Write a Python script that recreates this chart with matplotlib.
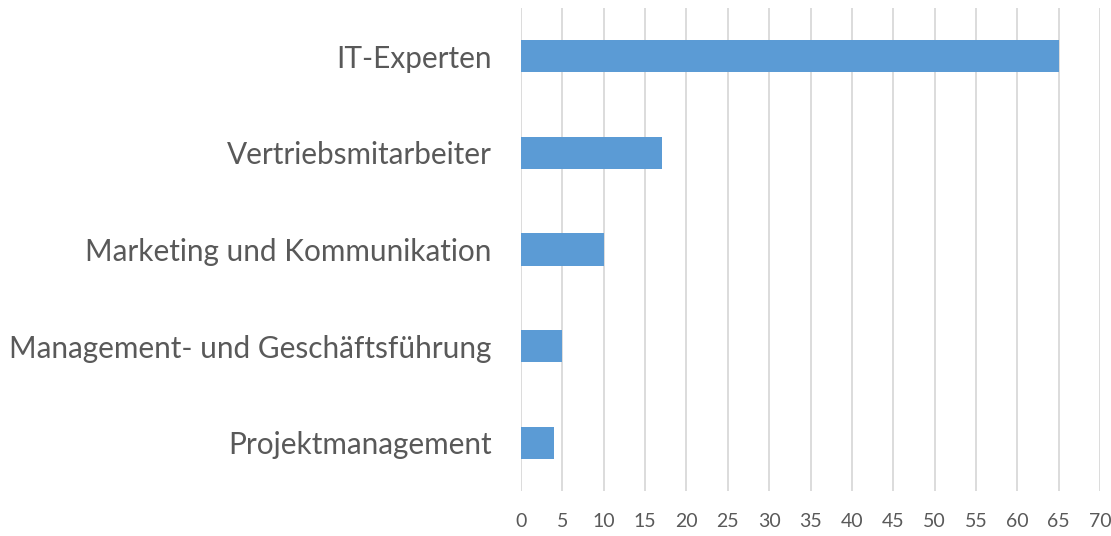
import matplotlib.pyplot as plt

kategorien = ['IT-Experten', 'Vertriebsmitarbeiter', 'Marketing und Kommunikation',
              'Management- und Geschäftsführung', 'Projektmanagement']
werte = [65, 17, 10, 5, 4]
x_ticks = list(range(0, 75, 5))

plt.rcParams['font.family'] = ['Lato', 'DejaVu Sans']

fig = plt.figure(figsize=(11.11, 5.36), dpi=100)
ax = fig.add_axes([521 / 1111, 1 - 491 / 536, (1100 - 521) / 1111, (491 - 8) / 536])

pos = list(range(len(kategorien)))
ax.barh(pos, werte, height=1 / 3, color='#5B9BD5', zorder=3)
ax.set_ylim(len(kategorien) - 0.5, -0.5)
ax.set_xlim(0, 70)
ax.set_xticks(x_ticks)
ax.set_yticks(pos)
ax.set_yticklabels(kategorien, fontsize=21.4, color='#595959')
ax.tick_params(axis='x', labelsize=14, labelcolor='#595959', length=0, pad=16)
ax.tick_params(axis='y', length=0, pad=21)
ax.grid(axis='x', color='#D9D9D9', linewidth=1.3, zorder=0)
for s in ax.spines.values():
    s.set_visible(False)

fig.savefig('out.png', dpi=100)
